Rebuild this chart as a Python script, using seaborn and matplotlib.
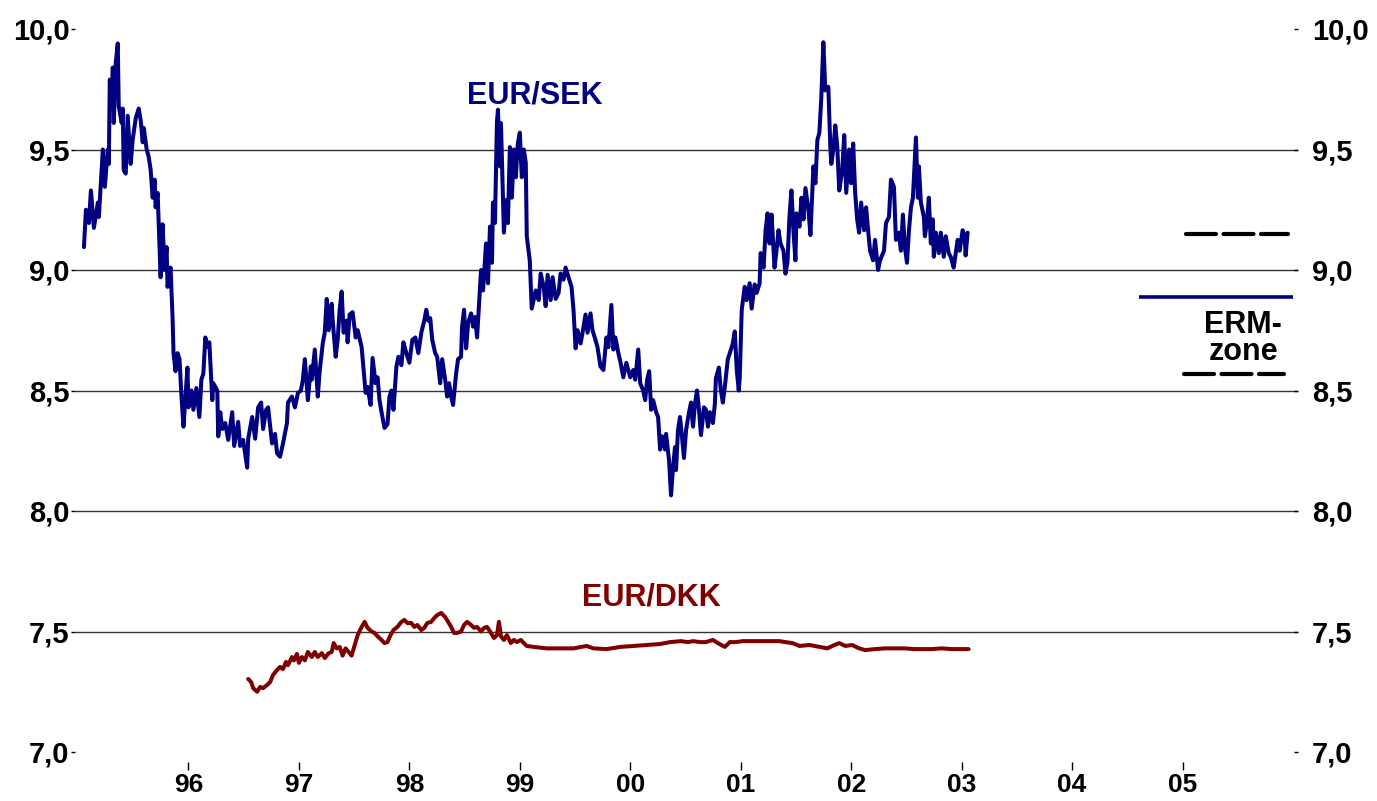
import matplotlib
matplotlib.use("Agg")
import matplotlib.pyplot as plt
import seaborn as sns
import pandas as pd

# ---------------- data ----------------
sek_t = [1995.054, 1995.072, 1995.099, 1995.117, 1995.144, 1995.180, 1995.189, 1995.207, 1995.225, 1995.243,
         1995.270, 1995.279, 1995.288, 1995.306, 1995.315, 1995.324, 1995.342, 1995.360, 1995.369, 1995.396,
         1995.405, 1995.414, 1995.432, 1995.450, 1995.477, 1995.495, 1995.523, 1995.550, 1995.568, 1995.586,
         1995.595, 1995.622, 1995.640, 1995.658, 1995.676, 1995.694, 1995.703, 1995.721, 1995.748, 1995.766,
         1995.784, 1995.802, 1995.811, 1995.838, 1995.856, 1995.865, 1995.883, 1995.901, 1995.919, 1995.937,
         1995.955, 1995.991, 1996.000, 1996.027, 1996.045, 1996.072, 1996.099, 1996.117, 1996.135, 1996.153,
         1996.171, 1996.189, 1996.216, 1996.225, 1996.261, 1996.270, 1996.288, 1996.306, 1996.333, 1996.360,
         1996.396, 1996.414, 1996.450, 1996.468, 1996.495, 1996.532, 1996.541, 1996.577, 1996.604, 1996.631,
         1996.658, 1996.676, 1996.703, 1996.721, 1996.757, 1996.784, 1996.802, 1996.829, 1996.856, 1996.892,
         1996.901, 1996.937, 1996.964, 1996.991, 1997.018, 1997.036,
         1997.054, 1997.081, 1997.108, 1997.117, 1997.144, 1997.171, 1997.189, 1997.216, 1997.234, 1997.252,
         1997.270, 1997.297, 1997.306, 1997.333, 1997.351, 1997.369, 1997.387, 1997.405, 1997.432, 1997.441,
         1997.459, 1997.486, 1997.514, 1997.532, 1997.568, 1997.586, 1997.604, 1997.622, 1997.649, 1997.667,
         1997.694, 1997.712, 1997.730, 1997.748, 1997.775, 1997.802, 1997.820, 1997.838, 1997.856, 1997.883,
         1997.901, 1997.928, 1997.946, 1997.973, 1998.000, 1998.027, 1998.054, 1998.081, 1998.108, 1998.135,
         1998.153, 1998.171, 1998.189, 1998.207, 1998.234, 1998.252, 1998.279, 1998.297, 1998.324, 1998.342,
         1998.360, 1998.378, 1998.396, 1998.423, 1998.441, 1998.468, 1998.477, 1998.495, 1998.514, 1998.532,
         1998.559, 1998.577, 1998.595, 1998.613, 1998.631, 1998.649, 1998.667, 1998.694, 1998.712, 1998.730,
         1998.748, 1998.757, 1998.775, 1998.793, 1998.802, 1998.820, 1998.829, 1998.856, 1998.874, 1998.892,
         1998.910, 1998.928, 1998.946, 1998.964, 1998.982, 1999.000, 1999.018, 1999.036, 1999.054, 1999.063,
         1999.090, 1999.108,
         1999.144, 1999.171, 1999.189, 1999.216, 1999.234, 1999.252, 1999.279, 1999.297, 1999.324, 1999.351,
         1999.369, 1999.396, 1999.414, 1999.441, 1999.468, 1999.486, 1999.505, 1999.523, 1999.550, 1999.568,
         1999.595, 1999.613, 1999.640, 1999.658, 1999.685, 1999.703, 1999.730, 1999.757, 1999.784, 1999.802,
         1999.829, 1999.847, 1999.865, 1999.892, 1999.910, 1999.937, 1999.964, 2000.000, 2000.027, 2000.045,
         2000.072, 2000.090, 2000.117, 2000.135, 2000.153, 2000.171, 2000.189, 2000.207, 2000.234, 2000.252,
         2000.270, 2000.288, 2000.315, 2000.324, 2000.351, 2000.369, 2000.387, 2000.405, 2000.414, 2000.432,
         2000.450, 2000.468, 2000.486, 2000.505, 2000.532, 2000.550, 2000.568, 2000.586, 2000.604, 2000.622,
         2000.640, 2000.667, 2000.685, 2000.703, 2000.721, 2000.748, 2000.766, 2000.775, 2000.802, 2000.820,
         2000.838, 2000.856, 2000.883, 2000.901, 2000.928, 2000.946, 2000.964, 2000.982, 2000.991, 2001.009,
         2001.036, 2001.054, 2001.081, 2001.099, 2001.126, 2001.144,
         2001.171, 2001.180, 2001.207, 2001.225, 2001.243, 2001.261, 2001.279, 2001.306, 2001.324, 2001.342,
         2001.360, 2001.387, 2001.405, 2001.423, 2001.441, 2001.459, 2001.477, 2001.495, 2001.505, 2001.532,
         2001.550, 2001.568, 2001.586, 2001.613, 2001.631, 2001.658, 2001.676, 2001.694, 2001.712, 2001.730,
         2001.748, 2001.766, 2001.793, 2001.811, 2001.820, 2001.838, 2001.856, 2001.874, 2001.892, 2001.919,
         2001.937, 2001.955, 2001.982, 2002.000, 2002.018, 2002.036, 2002.054, 2002.072, 2002.090, 2002.117,
         2002.135, 2002.153, 2002.171, 2002.198, 2002.216, 2002.243, 2002.261, 2002.297, 2002.315, 2002.342,
         2002.360, 2002.387, 2002.405, 2002.432, 2002.450, 2002.468, 2002.486, 2002.505, 2002.523, 2002.541,
         2002.559, 2002.577, 2002.586, 2002.604, 2002.613, 2002.631, 2002.658, 2002.667, 2002.685, 2002.703,
         2002.721, 2002.739, 2002.748, 2002.766, 2002.793, 2002.811, 2002.838, 2002.856, 2002.883, 2002.901,
         2002.928, 2002.937, 2002.964, 2002.982, 2003.009, 2003.027, 2003.036, 2003.054]

sek_v = [9.095, 9.25, 9.195, 9.33, 9.175, 9.28, 9.22, 9.36, 9.50, 9.345,
         9.50, 9.44, 9.79, 9.68, 9.84, 9.61, 9.86, 9.94, 9.68, 9.61,
         9.67, 9.415, 9.40, 9.64, 9.44, 9.54, 9.63, 9.67, 9.62, 9.53,
         9.59, 9.50, 9.47, 9.415, 9.30, 9.375, 9.26, 9.32, 8.97, 9.19,
         9.00, 9.095, 8.93, 9.01, 8.805, 8.655, 8.58, 8.655, 8.63, 8.475,
         8.35, 8.595, 8.43, 8.50, 8.42, 8.51, 8.39, 8.545, 8.57, 8.72,
         8.68, 8.70, 8.46, 8.53, 8.50, 8.31, 8.41, 8.34, 8.365, 8.295,
         8.41, 8.27, 8.37, 8.27, 8.295, 8.18, 8.30, 8.39, 8.30, 8.43,
         8.45, 8.34, 8.42, 8.43, 8.28, 8.32, 8.24, 8.225, 8.28, 8.365,
         8.45, 8.475, 8.43, 8.49, 8.50, 8.545,
         8.63, 8.46, 8.60, 8.545, 8.67, 8.475, 8.585, 8.695, 8.74, 8.88,
         8.75, 8.86, 8.79, 8.64, 8.71, 8.835, 8.91, 8.74, 8.79, 8.70,
         8.815, 8.825, 8.72, 8.75, 8.68, 8.585, 8.49, 8.515, 8.44, 8.635,
         8.53, 8.555, 8.46, 8.41, 8.345, 8.36, 8.475, 8.50, 8.42, 8.60,
         8.64, 8.605, 8.70, 8.655, 8.615, 8.71, 8.72, 8.655, 8.74, 8.79,
         8.835, 8.79, 8.80, 8.71, 8.655, 8.64, 8.53, 8.63, 8.545, 8.475,
         8.53, 8.475, 8.44, 8.57, 8.63, 8.64, 8.765, 8.835, 8.675, 8.78,
         8.82, 8.765, 8.805, 8.72, 8.86, 9.00, 8.915, 9.11, 8.945, 9.18,
         9.03, 9.28, 9.195, 9.615, 9.665, 9.43, 9.61, 9.155, 9.29, 9.195,
         9.51, 9.30, 9.50, 9.385, 9.525, 9.57, 9.385, 9.50, 9.445, 9.14,
         9.04, 8.84,
         8.915, 8.875, 8.985, 8.93, 8.85, 8.98, 8.875, 8.97, 8.88, 8.905,
         8.985, 8.96, 9.01, 8.97, 8.93, 8.835, 8.675, 8.75, 8.695, 8.74,
         8.815, 8.74, 8.82, 8.75, 8.71, 8.68, 8.60, 8.585, 8.72, 8.68,
         8.855, 8.67, 8.72, 8.655, 8.62, 8.555, 8.615, 8.555, 8.585, 8.545,
         8.67, 8.53, 8.50, 8.46, 8.545, 8.58, 8.42, 8.46, 8.41, 8.39,
         8.255, 8.31, 8.255, 8.32, 8.21, 8.065, 8.18, 8.265, 8.17, 8.335,
         8.39, 8.31, 8.22, 8.335, 8.41, 8.45, 8.35, 8.445, 8.50, 8.42,
         8.315, 8.43, 8.42, 8.35, 8.41, 8.365, 8.445, 8.55, 8.595, 8.50,
         8.45, 8.515, 8.63, 8.655, 8.695, 8.745, 8.585, 8.50, 8.555, 8.835,
         8.93, 8.875, 8.945, 8.84, 8.94, 8.905,
         8.945, 9.07, 9.01, 9.165, 9.235, 9.11, 9.23, 9.01, 9.08, 9.165,
         9.11, 9.08, 8.985, 9.03, 9.22, 9.33, 9.165, 9.04, 9.235, 9.18,
         9.30, 9.21, 9.34, 9.25, 9.145, 9.43, 9.36, 9.54, 9.57, 9.72,
         9.945, 9.745, 9.76, 9.51, 9.44, 9.50, 9.60, 9.51, 9.33, 9.415,
         9.56, 9.32, 9.50, 9.36, 9.525, 9.32, 9.21, 9.155, 9.28, 9.165,
         9.26, 9.165, 9.08, 9.04, 9.125, 9.00, 9.04, 9.08, 9.195, 9.22,
         9.375, 9.345, 9.125, 9.155, 9.08, 9.23, 9.095, 9.03, 9.165, 9.26,
         9.30, 9.47, 9.55, 9.30, 9.43, 9.28, 9.22, 9.14, 9.195, 9.30,
         9.11, 9.21, 9.055, 9.155, 9.07, 9.155, 9.055, 9.14, 9.07, 9.055,
         9.01, 9.04, 9.125, 9.08, 9.165, 9.14, 9.06, 9.155]

dkk_t = [1996.541, 1996.568, 1996.586, 1996.622, 1996.649, 1996.676, 1996.712, 1996.739, 1996.766, 1996.802,
         1996.829, 1996.856, 1996.883, 1996.901, 1996.937, 1996.955, 1996.982, 1997.000, 1997.027, 1997.054,
         1997.081, 1997.117, 1997.144, 1997.171, 1997.207, 1997.234, 1997.270, 1997.297, 1997.315, 1997.342,
         1997.369, 1997.396, 1997.423, 1997.450, 1997.477, 1997.505, 1997.532, 1997.568, 1997.595, 1997.622,
         1997.658, 1997.685, 1997.712, 1997.748, 1997.775, 1997.802, 1997.829, 1997.856, 1997.892, 1997.928,
         1997.955, 1997.982, 1998.018, 1998.045, 1998.072, 1998.108, 1998.135, 1998.162, 1998.198, 1998.225,
         1998.252, 1998.288, 1998.324, 1998.351, 1998.378, 1998.405, 1998.432, 1998.468, 1998.495, 1998.523,
         1998.559, 1998.586, 1998.613, 1998.649, 1998.676, 1998.703, 1998.739, 1998.766, 1998.793, 1998.811,
         1998.829, 1998.856, 1998.883, 1998.919, 1998.946, 1998.973, 1999.009, 1999.036, 1999.063, 1999.126,
         1999.243, 1999.369, 1999.486, 1999.604, 1999.667, 1999.784, 1999.910, 2000.027, 2000.144, 2000.270,
         2000.360, 2000.459, 2000.523, 2000.568, 2000.631, 2000.685, 2000.748, 2000.793, 2000.856, 2000.901,
         2000.955, 2001.018, 2001.108, 2001.225, 2001.351, 2001.405, 2001.468, 2001.532, 2001.622, 2001.712,
         2001.784, 2001.829, 2001.892, 2001.946, 2002.009, 2002.072, 2002.126, 2002.216, 2002.306, 2002.396,
         2002.486, 2002.568, 2002.640, 2002.730, 2002.820, 2002.910, 2002.982, 2003.063]

dkk_v = [7.303, 7.29, 7.265, 7.25, 7.27, 7.265, 7.278, 7.29, 7.32, 7.34,
         7.353, 7.344, 7.374, 7.36, 7.394, 7.38, 7.407, 7.37, 7.394, 7.38,
         7.415, 7.394, 7.415, 7.394, 7.41, 7.39, 7.41, 7.415, 7.452, 7.43,
         7.436, 7.40, 7.43, 7.415, 7.40, 7.444, 7.485, 7.519, 7.54, 7.515,
         7.50, 7.494, 7.48, 7.465, 7.452, 7.456, 7.485, 7.506, 7.519, 7.54,
         7.548, 7.535, 7.535, 7.519, 7.527, 7.506, 7.515, 7.535, 7.54, 7.556,
         7.568, 7.577, 7.56, 7.54, 7.519, 7.494, 7.494, 7.50, 7.527, 7.54,
         7.527, 7.515, 7.519, 7.50, 7.515, 7.519, 7.494, 7.473, 7.485, 7.54,
         7.48, 7.465, 7.485, 7.452, 7.465, 7.456, 7.465, 7.452, 7.44, 7.436,
         7.43, 7.43, 7.43, 7.44, 7.43, 7.427, 7.436, 7.44, 7.444, 7.448,
         7.456, 7.46, 7.456, 7.46, 7.456, 7.456, 7.465, 7.452, 7.436, 7.456,
         7.456, 7.46, 7.46, 7.46, 7.46, 7.456, 7.452, 7.44, 7.444, 7.436,
         7.43, 7.44, 7.452, 7.44, 7.444, 7.43, 7.423, 7.427, 7.43, 7.43,
         7.43, 7.427, 7.427, 7.427, 7.43, 7.427, 7.427, 7.427]

# ERM band (levels and extent in years)
erm_levels = [9.15, 8.89, 8.57]
erm_start = [2005.03, 2004.61, 2005.01]
erm_end = [2005.955, 2006.0, 2005.92]

year_ticks = [1996, 1997, 1998, 1999, 2000, 2001, 2002, 2003, 2004, 2005]
year_labels = ["96", "97", "98", "99", "00", "01", "02", "03", "04", "05"]
y_ticks = [7.0, 7.5, 8.0, 8.5, 9.0, 9.5, 10.0]
y_labels = ["7,0", "7,5", "8,0", "8,5", "9,0", "9,5", "10,0"]
grid_levels = [7.5, 8.0, 8.5, 9.0, 9.5]

SEK_COLOR = "#000080"
DKK_COLOR = "#800000"

# ---------------- plotting ----------------
sns.set_style("white")
plt.rcParams["font.family"] = ["Liberation Sans", "DejaVu Sans"]
plt.rcParams["text.color"] = "black"
plt.rcParams["xtick.color"] = "black"
plt.rcParams["ytick.color"] = "black"

W, H = 1377, 801
fig = plt.figure(figsize=(W / 100, H / 100), dpi=100)
ax = fig.add_axes([75 / W, 1 - 752 / H, (1298 - 75) / W, (752 - 29) / H])

for g in grid_levels:
    ax.axhline(g, color="#333333", lw=1.0, zorder=1)

sek_df = pd.DataFrame({"t": sek_t, "v": sek_v})
dkk_df = pd.DataFrame({"t": dkk_t, "v": dkk_v})
sns.lineplot(data=sek_df, x="t", y="v", ax=ax, color=SEK_COLOR, lw=2.9,
             estimator=None, sort=False, zorder=3)
sns.lineplot(data=dkk_df, x="t", y="v", ax=ax, color=DKK_COLOR, lw=2.9,
             estimator=None, sort=False, zorder=3)

# ERM zone markers
ax.hlines(erm_levels[1], erm_start[1], erm_end[1], color=SEK_COLOR, lw=2.6, zorder=3)
for i in (0, 2):
    ax.hlines(erm_levels[i], erm_start[i], erm_end[i], color="black", lw=3.0,
              linestyles=(0, (7.2, 1.8)), zorder=3, capstyle="round")

ax.set_xlim(1995 - 3 / 111, 2006 + 5 / 111)
ax.set_ylim(7.0, 10.0)
ax.set_xlabel("")
ax.set_ylabel("")

for s in ax.spines.values():
    s.set_visible(False)
ax.spines["bottom"].set_position(("outward", 7))

ax.set_xticks(year_ticks)
ax.set_xticklabels(year_labels)
ax.tick_params(axis="x", bottom=True, length=6, width=1, color="black", pad=2,
               labelsize=19, labelcolor="black")
for lab in ax.get_xticklabels():
    lab.set_fontweight("bold")

ax.set_yticks(y_ticks)
ax.set_yticklabels(y_labels)
ax.tick_params(axis="y", left=True, length=3, width=1, direction="out", pad=1,
               labelsize=21, labelcolor="black")
for lab in ax.get_yticklabels():
    lab.set_fontweight("bold")

ax2 = ax.twinx()
ax2.set_ylim(7.0, 10.0)
ax2.set_yticks(y_ticks)
ax2.set_yticklabels(y_labels)
ax2.tick_params(axis="y", right=True, length=3, width=1, direction="in", pad=10,
                labelsize=21, labelcolor="black")
for lab in ax2.get_yticklabels():
    lab.set_fontweight("bold")
for s in ax2.spines.values():
    s.set_visible(False)

# labels
ax.text(1999.135, 9.726, "EUR/SEK", color=SEK_COLOR, fontsize=22,
        fontweight="bold", ha="center", va="center")
ax.text(2000.19, 7.643, "EUR/DKK", color=DKK_COLOR, fontsize=22,
        fontweight="bold", ha="center", va="center")
ax.text(2005.55, 8.716, "ERM-\nzone", color="black", fontsize=22,
        fontweight="bold", ha="center", va="center", multialignment="center",
        linespacing=0.85)

fig.savefig("out.png", dpi=100)
